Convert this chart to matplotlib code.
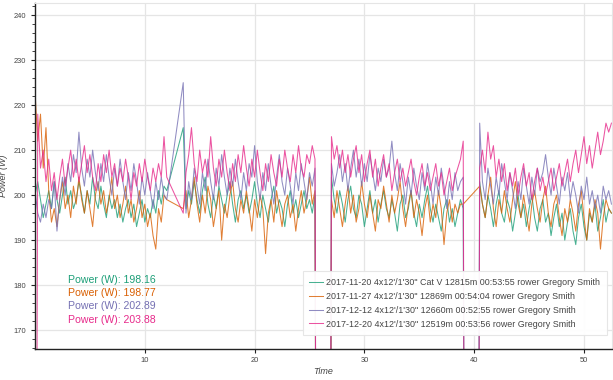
import matplotlib.pyplot as plt
import numpy as np

plt.rcParams['font.family'] = ['Liberation Sans', 'DejaVu Sans']

# workout: 4 x 12 min intervals with 1'30" rest, one stroke sample every 0.25 min
interval_starts = [0.0, 13.5, 27.0, 40.5]
step = 0.25

labels = [
    "2017-11-20 4x12'/1'30\" Cat V 12815m 00:53:55 rower Gregory Smith",
    "2017-11-27 4x12'/1'30\" 12869m 00:54:04 rower Gregory Smith",
    "2017-12-12 4x12'/1'30\" 12660m 00:52:55 rower Gregory Smith",
    "2017-12-20 4x12'/1'30\" 12519m 00:53:56 rower Gregory Smith",
]
mean_power = ['198.16', '198.77', '202.89', '203.88']
colors = ['#1b9e77', '#d95f02', '#7570b3', '#e7298a']

# power (W) per interval
teal_1 = [200, 203, 199, 195, 198, 201, 197, 203, 199, 196, 200, 204, 198, 201, 197, 199, 203,
          200, 196, 201, 198, 204, 199, 197, 202, 198, 195, 200, 197, 199, 195, 198, 194, 197,
          199, 195, 198, 193, 196, 199, 194, 197, 195, 199, 196, 201, 198, 202, 201]
teal_2 = [215, 197, 201, 198, 203, 199, 196, 201, 204, 198, 195, 200, 197, 202, 199, 196, 200,
          203, 198, 194, 199, 201, 197, 200, 196, 199, 203, 198, 195, 200, 197, 194, 199, 202,
          196, 199, 197, 193, 198, 201, 196, 199, 195, 198, 201, 197, 199, 196, 200]
teal_3 = [204, 199, 196, 201, 198, 194, 199, 202, 197, 195, 200, 198, 193, 197, 201, 196, 199,
          194, 198, 201, 197, 195, 199, 196, 192, 198, 200, 195, 197, 201, 196, 193, 198, 195,
          199, 202, 197, 194, 198, 195, 192, 197, 199, 194, 197, 193, 196, 199, 197]
teal_4 = [203, 198, 195, 200, 197, 193, 198, 201, 196, 194, 199, 197, 192, 196, 200, 195, 198,
          193, 197, 200, 195, 192, 197, 199, 194, 196, 191, 195, 198, 193, 196, 190, 194, 197,
          192, 189, 195, 198, 193, 190, 196, 194, 198, 192, 195, 199, 194, 197, 196]

orange_1 = [223, 212, 218, 206, 215, 201, 194, 197, 193, 199, 203, 197, 200, 195, 202, 198, 204,
            199, 196, 201, 197, 193, 200, 203, 198, 201, 196, 199, 204, 197, 200, 195, 198, 202,
            196, 199, 194, 197, 201, 195, 198, 193, 196, 191, 188, 197, 194, 200, 199]
orange_2 = [197, 201, 195, 199, 204, 198, 194, 200, 196, 202, 199, 193, 197, 201, 190, 198, 195,
            200, 203, 197, 194, 199, 196, 201, 197, 192, 199, 195, 200, 197, 187, 196, 199, 194,
            201, 197, 193, 198, 200, 195, 198, 192, 197, 201, 196, 199, 204, 198, 201]
orange_3 = [199, 195, 201, 197, 193, 198, 202, 196, 200, 194, 197, 203, 198, 195, 200, 196, 192,
            199, 197, 202, 198, 194, 200, 196, 199, 203, 197, 193, 198, 201, 195, 199, 196, 191,
            197, 200, 194, 198, 195, 201, 197, 189, 196, 199, 194, 198, 196, 198, 198]
orange_4 = [202, 198, 195, 200, 204, 197, 193, 199, 196, 201, 197, 194, 199, 203, 198, 195, 200,
            196, 192, 198, 201, 197, 194, 199, 202, 196, 193, 198, 200, 195, 191, 197, 194, 199,
            196, 192, 198, 201, 195, 190, 197, 194, 199, 196, 188, 195, 199, 197, 196]

purple_1 = [201, 196, 194, 198, 195, 199, 197, 203, 192, 199, 204, 200, 207, 203, 209, 205, 214,
            206, 202, 208, 204, 210, 205, 201, 207, 203, 209, 204, 200, 206, 202, 208, 203, 199,
            205, 201, 207, 203, 198, 204, 200, 205, 201, 197, 203, 199, 204, 200, 199]
purple_2 = [225, 196, 203, 199, 206, 202, 198, 205, 201, 208, 203, 199, 206, 202, 209, 204, 200,
            206, 202, 208, 203, 199, 205, 201, 207, 204, 211, 203, 199, 205, 201, 207, 202, 198,
            204, 209, 203, 200, 206, 202, 198, 205, 201, 207, 203, 199, 205, 202, 206]
purple_3 = [207, 202, 205, 209, 203, 207, 201, 206, 210, 204, 208, 202, 207, 203, 209, 205, 201,
            206, 203, 208, 204, 206, 212, 205, 201, 207, 203, 198, 204, 200, 206, 202, 199, 205,
            201, 207, 203, 198, 204, 200, 206, 202, 197, 203, 199, 205, 201, 203, 204]
purple_4 = [216, 203, 199, 206, 202, 198, 204, 200, 207, 203, 199, 205, 201, 197, 203, 199, 206,
            202, 198, 204, 200, 206, 203, 205, 209, 204, 200, 206, 202, 198, 204, 201, 205, 199,
            203, 200, 196, 202, 199, 204, 198, 201, 197, 200, 196, 202, 199, 201, 198]

pink_1 = [0, 218, 206, 210, 203, 208, 201, 205, 199, 204, 208, 202, 206, 210, 204, 208, 203, 207,
          211, 205, 209, 204, 201, 207, 203, 209, 205, 210, 204, 207, 202, 206, 203, 208, 204,
          199, 205, 202, 207, 203, 208, 204, 201, 206, 203, 207, 204, 213, 204]
pink_2 = [196, 205, 209, 215, 207, 203, 210, 205, 208, 204, 213, 206, 202, 208, 204, 210, 205,
          201, 207, 203, 209, 205, 211, 206, 202, 208, 204, 210, 205, 201, 207, 203, 209, 205,
          202, 208, 204, 210, 206, 203, 209, 205, 211, 206, 204, 209, 207, 211, 208]
pink_3 = [213, 208, 211, 206, 210, 205, 209, 204, 208, 211, 205, 209, 203, 207, 210, 204, 208,
          202, 206, 209, 204, 207, 201, 205, 208, 203, 206, 202, 205, 208, 203, 200, 204, 207,
          202, 205, 201, 204, 207, 202, 205, 200, 203, 206, 201, 204, 206, 208, 212]
pink_4 = [206, 210, 205, 214, 208, 211, 204, 208, 203, 207, 201, 205, 202, 206, 200, 204, 207,
          202, 205, 199, 203, 206, 201, 204, 200, 203, 206, 201, 204, 207, 202, 205, 208, 203,
          207, 210, 205, 209, 213, 207, 211, 206, 210, 214, 209, 212, 216, 214, 216]

# samples logged during the rests (none in the first rest)
rest_samples = [0, 0]
no_samples = []

series = [
    ([teal_1, teal_2, teal_3, teal_4], [no_samples, rest_samples, rest_samples]),
    ([orange_1, orange_2, orange_3, orange_4], [no_samples, rest_samples, no_samples]),
    ([purple_1, purple_2, purple_3, purple_4], [no_samples, rest_samples, rest_samples]),
    ([pink_1, pink_2, pink_3, pink_4], [no_samples, rest_samples, rest_samples]),
]


def build(parts, rests):
    t, p = [], []
    for k, vals in enumerate(parts):
        start = interval_starts[k]
        t.extend(start + step * np.arange(len(vals)))
        p.extend(vals)
        if k < len(rests) and rests[k]:
            end = start + step * (len(vals) - 1)
            t.extend(np.linspace(end + step, interval_starts[k + 1] - step, len(rests[k])))
            p.extend(rests[k])
    return t, p


fig = plt.figure(figsize=(6.13, 3.80), dpi=100)
ax = fig.add_axes([35 / 613, 31 / 380, 577 / 613, 346 / 380])

for (parts, rests), color, label in zip(series, colors, labels):
    t, p = build(parts, rests)
    ax.plot(t, p, color=color, lw=0.75, alpha=0.8, label=label)

ax.set_xlim(0, 52.55)
ax.set_ylim(165.8, 242.7)
ax.set_xticks([10, 20, 30, 40, 50])
ax.set_yticks([170, 180, 190, 200, 210, 220, 230, 240])
ax.set_yticks(np.arange(166, 243, 2), minor=True)
ax.grid(True, color='#e5e5e5', lw=0.9)
ax.set_axisbelow(True)

for side in ['top', 'right']:
    ax.spines[side].set_color('#e5e5e5')
for side in ['left', 'bottom']:
    ax.spines[side].set_color('#222222')
    ax.spines[side].set_linewidth(1.0)

ax.tick_params(axis='both', which='major', labelsize=5.4, labelcolor='#444444',
               color='#222222', direction='out', length=3, width=0.8)
ax.tick_params(axis='y', which='minor', direction='out', length=2, width=0.6, color='#222222')
ax.tick_params(axis='y', which='major', pad=3.5)
ax.tick_params(axis='x', which='major', pad=2.5)

ax.set_xlabel('Time', fontsize=6.5, style='italic', color='#444444')
ax.set_ylabel('Power (W)', fontsize=6.5, style='italic', color='#444444')
ax.xaxis.set_label_coords(0.5, -0.052)
ax.yaxis.set_label_coords(-0.047, 0.5)

for i, (m, color) in enumerate(zip(mean_power, colors)):
    ax.text(0.057, 0.199 - i * 0.038, f'Power (W): {m}', color=color, fontsize=7.6,
            transform=ax.transAxes, va='center', ha='left')

leg = ax.legend(loc='upper left', bbox_to_anchor=(302.7 / 613, 1 - 271 / 380),
                bbox_transform=fig.transFigure, borderaxespad=0, fontsize=6.4,
                handlelength=1.57, handletextpad=0.3, labelspacing=0.56, borderpad=0.75,
                fancybox=False, framealpha=0.95, edgecolor='#e5e5e5')
for text in leg.get_texts():
    text.set_color('#444444')
leg.get_frame().set_linewidth(0.8)

fig.savefig('out.png', dpi=100)
plt.close(fig)
